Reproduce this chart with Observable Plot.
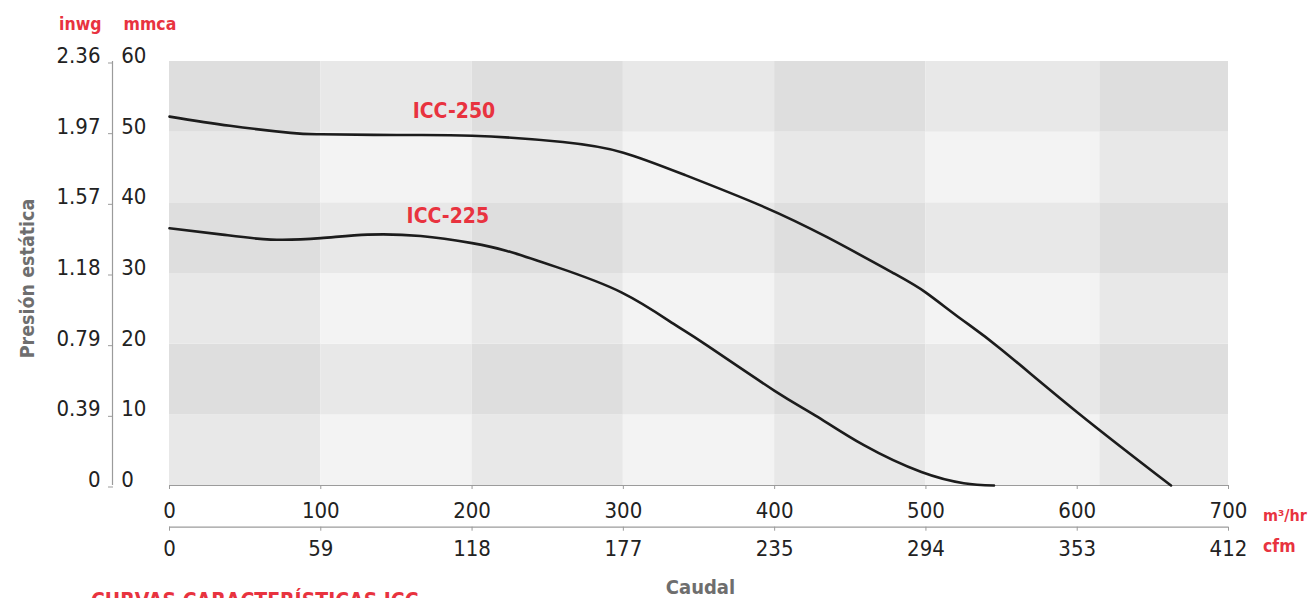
<!DOCTYPE html>
<html><head><meta charset="utf-8">
<script src="https://cdn.jsdelivr.net/npm/d3@7"></script>
<script src="https://cdn.jsdelivr.net/npm/@observablehq/plot@0.6"></script>
<style>
html,body{margin:0;padding:0;background:#fff;}
#chart{width:1308px;height:598px;overflow:hidden;}
</style></head><body><div id="chart"></div>
<script>
// ---- data ----
const flowTicks = [0, 100, 200, 300, 400, 500, 600, 700];          // m³/hr
const cfmTicks = ["0", "59", "118", "177", "235", "294", "353", "412"];
const mmcaTicks = [0, 10, 20, 30, 40, 50, 60];
const inwgTicks = ["0", "0.39", "0.79", "1.18", "1.57", "1.97", "2.36"];
const colEdges = [0, 100, 200, 300, 400, 500, 615, 700];
const rowEdges = [0, 10, 20, 30, 40, 50, 60];

const icc250Flow = [0, 40, 80, 100, 150, 200, 260, 300, 340, 391, 435, 479, 500, 523, 549, 601, 662];
const icc250Pres = [52.2, 50.9, 49.9, 49.7, 49.6, 49.5, 48.6, 47.1, 44.0, 39.6, 35.1, 30.0, 27.3, 23.6, 19.4, 10.2, 0];
const icc225Flow = [0, 35, 67, 100, 131, 166, 200, 223, 256, 299, 333, 354, 400, 427, 459, 497, 525, 545];
const icc225Pres = [36.4, 35.5, 34.8, 35.0, 35.5, 35.3, 34.3, 33.2, 30.9, 27.3, 22.9, 20.0, 13.4, 9.9, 5.7, 1.9, 0.33, 0];

const curveNames = ["ICC-250", "ICC-225"];
const labelFlow = [188, 184];
const labelPres = [52.0, 37.1];

// ---- styles ----
const FONT = '"Liberation Sans Narrow","DejaVu Sans Condensed","Liberation Sans",sans-serif';
const RED = "#e8333f";
const AXIS = "#9b9b9b";
const INK = "#222";
const GREY_TITLE = "#6e6e6e";
const SHADES = ["#f3f3f3", "#e8e8e8", "#dedede"];

const cells = [];
for (let i = 0; i < colEdges.length - 1; i++) {
  for (let j = 0; j < rowEdges.length - 1; j++) {
    const n = (i % 2 === 0 ? 1 : 0) + (j % 2 === 1 ? 1 : 0);
    cells.push({x1: colEdges[i], x2: colEdges[i + 1], y1: rowEdges[j], y2: rowEdges[j + 1], shade: SHADES[n]});
  }
}
const curves = [
  ...icc250Flow.map((f, i) => ({name: curveNames[0], flow: f, pres: icc250Pres[i]})),
  ...icc225Flow.map((f, i) => ({name: curveNames[1], flow: f, pres: icc225Pres[i]}))
];
const labels = curveNames.map((n, i) => ({name: n, flow: labelFlow[i], pres: labelPres[i]}));

const chart = Plot.plot({
  width: 1308, height: 598,
  marginLeft: 169, marginRight: 80, marginTop: 61, marginBottom: 113,
  x: {domain: [0, 700]},
  y: {domain: [0, 60]},
  color: {type: "identity"},
  style: {fontFamily: FONT, background: "#fff"},
  marks: [
    Plot.rect(cells, {x1: "x1", x2: "x2", y1: "y1", y2: "y2", fill: "shade"}),
    // bottom axes
    Plot.ruleY([0], {stroke: AXIS, strokeWidth: 1.2}),
    Plot.axisX(flowTicks, {anchor: "bottom", tickSize: 4, tickPadding: 13, stroke: AXIS, color: INK, fontSize: 22, lineAnchor: "top", label: null}),
    Plot.ruleY([0], {stroke: AXIS, strokeWidth: 1.2, dy: 41.7}),
    Plot.axisX(flowTicks, {anchor: "bottom", dy: 41.7, tickSize: 4, tickPadding: 9.5, stroke: AXIS, color: INK, fontSize: 22, lineAnchor: "top", label: null,
      tickFormat: d => cfmTicks[flowTicks.indexOf(d)]}),
    // left axes
    Plot.ruleX([0], {stroke: AXIS, strokeWidth: 1.2, dx: -57}),
    Plot.axisY(mmcaTicks, {anchor: "left", dx: -56, tickSize: 5, tickPadding: -12.7, textAnchor: "start", lineAnchor: "bottom", dy: 1.5,
      stroke: AXIS, color: INK, fontSize: 22, label: null}),
    Plot.axisY(mmcaTicks, {anchor: "left", dx: -69, tickSize: 0, tickPadding: 0, textAnchor: "end", lineAnchor: "bottom", dy: 1.5,
      color: INK, fontSize: 22, label: null, tickFormat: d => inwgTicks[mmcaTicks.indexOf(d)]}),
    // curves
    Plot.line(curves, {x: "flow", y: "pres", z: "name", curve: "natural", stroke: "#1c1c1c", strokeWidth: 2.6}),
    Plot.text(labels, {x: "flow", y: "pres", text: "name", fill: RED, fontSize: 21, fontWeight: "bold", lineAnchor: "bottom"}),
    // unit labels
    Plot.text(["inwg"], {text: d => d, frameAnchor: "top-left", dx: -68, dy: -31.5, textAnchor: "end", lineAnchor: "bottom", fill: RED, fontSize: 17.5, fontWeight: "bold"}),
    Plot.text(["mmca"], {text: d => d, frameAnchor: "top-left", dx: -46, dy: -31.5, textAnchor: "start", lineAnchor: "bottom", fill: RED, fontSize: 17.5, fontWeight: "bold"}),
    Plot.text(["m³/hr"], {text: d => d, frameAnchor: "bottom-right", dx: 34.5, dy: 35, textAnchor: "start", lineAnchor: "bottom", fill: RED, fontSize: 16, fontWeight: "bold"}),
    Plot.text(["cfm"], {text: d => d, frameAnchor: "bottom-right", dx: 34.5, dy: 66.5, textAnchor: "start", lineAnchor: "bottom", fill: RED, fontSize: 17.5, fontWeight: "bold"}),
    // titles
    Plot.text(["Caudal"], {text: d => d, frameAnchor: "bottom", dx: 1.5, dy: 108.5, textAnchor: "middle", lineAnchor: "bottom", fill: GREY_TITLE, fontSize: 20, fontWeight: "bold"}),
    Plot.text(["Presión estática"], {text: d => d, frameAnchor: "left", dx: -136, dy: 5, rotate: -90, textAnchor: "middle", lineAnchor: "bottom", fill: GREY_TITLE, fontSize: 19.5, fontWeight: "bold"}),
    Plot.text(["CURVAS CARACTERÍSTICAS ICC"], {text: d => d, frameAnchor: "bottom-left", dx: -78.5, dy: 122.3, textAnchor: "start", lineAnchor: "bottom", fill: RED, fontSize: 21, fontWeight: "bold"})
  ]
});
document.getElementById("chart").append(chart);
</script>
</body></html>
